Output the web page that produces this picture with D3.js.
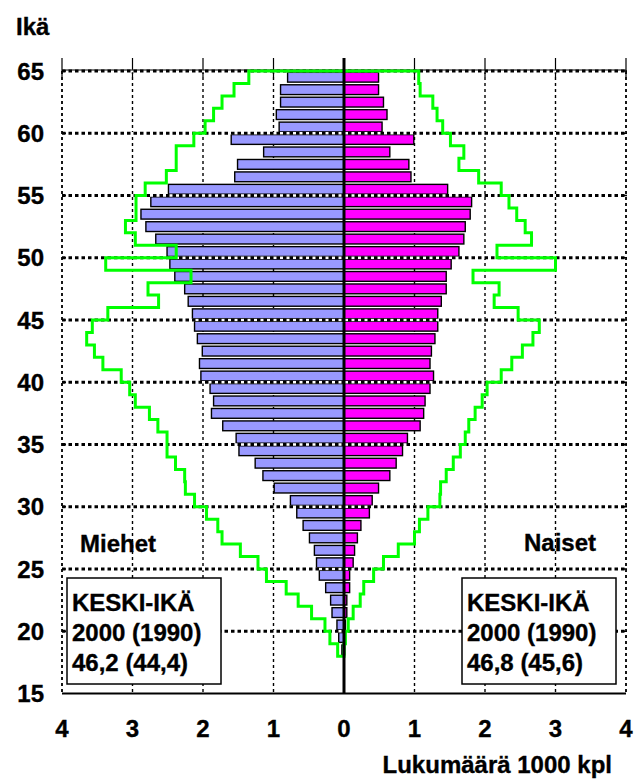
<!DOCTYPE html>
<html><head><meta charset="utf-8">
<script src="https://cdn.jsdelivr.net/npm/d3@7"></script>
<style>body{margin:0;background:#fff}svg text{font-family:"Liberation Sans",Arial,sans-serif;font-weight:bold;fill:#000;stroke:#000;stroke-width:0.35px}</style>
</head><body><div id="chart"></div>
<script>
// Ages (each bar covers age a .. a+1), listed from 64 down to 18
const ages = [64,63,62,61,60,59,58,57,56,55,54,53,52,51,50,49,48,47,46,45,44,43,42,41,40,39,38,37,36,35,34,33,32,31,30,29,28,27,26,25,24,23,22,21,20,19,18];
// Men 2000 (1000 persons)
const men2000 = [0.80,0.90,0.90,0.96,0.92,1.60,1.14,1.51,1.55,2.49,2.74,2.88,2.81,2.67,2.51,2.47,2.40,2.26,2.21,2.15,2.12,2.08,2.01,2.05,2.03,1.90,1.85,1.88,1.72,1.53,1.49,1.26,1.15,0.99,0.76,0.67,0.58,0.49,0.42,0.39,0.35,0.26,0.19,0.17,0.10,0.075,0.03];
// Women 2000
const women2000 = [0.49,0.49,0.56,0.61,0.54,0.99,0.65,0.92,0.95,1.47,1.81,1.79,1.72,1.70,1.63,1.52,1.45,1.45,1.38,1.33,1.33,1.29,1.24,1.22,1.27,1.22,1.15,1.13,1.08,0.90,0.83,0.74,0.65,0.49,0.40,0.36,0.24,0.19,0.15,0.13,0.08,0.08,0.04,0.04,0.02,0.01,0.01];
// Men 1990 (green outline)
const men1990 = [1.35,1.56,1.73,1.85,1.97,2.13,2.38,2.38,2.52,2.82,2.95,2.95,3.10,2.96,2.38,3.38,2.17,2.78,2.63,3.35,3.57,3.65,3.54,3.42,3.16,3.04,2.96,2.76,2.64,2.51,2.51,2.39,2.26,2.25,2.12,1.95,1.79,1.73,1.47,1.22,1.10,0.82,0.65,0.46,0.27,0.20,0.09];
// Women 1990 (green outline)
const women1990 = [1.06,1.08,1.26,1.32,1.40,1.51,1.70,1.63,1.91,2.23,2.34,2.45,2.57,2.66,2.17,3.00,1.83,2.20,2.13,2.47,2.77,2.68,2.53,2.38,2.23,2.03,1.96,1.86,1.77,1.72,1.65,1.55,1.45,1.37,1.36,1.19,1.07,1.00,0.77,0.56,0.42,0.28,0.23,0.13,0.06,0.02,0.00];
// Tick labels
const xTicks = [-4,-3,-2,-1,0,1,2,3,4];
const yTicks = [15,20,25,30,35,40,45,50,55,60,65];
const yLabel = "Ikä";
const xLabel = "Lukumäärä 1000 kpl";
const leftLabel = "Miehet", rightLabel = "Naiset";
const leftBox = ["KESKI-IKÄ","2000 (1990)","46,2 (44,4)"];
const rightBox = ["KESKI-IKÄ","2000 (1990)","46,8 (45,6)"];

const W=634,H=781;
const svg=d3.select("#chart").append("svg").attr("width",W).attr("height",H);
const x=d3.scaleLinear().domain([-4,4]).range([62,626]);
const y=d3.scaleLinear().domain([15,65]).range([693.5,71]);
const rows=ages.map((a,i)=>({age:a,m:men2000[i],w:women2000[i],m90:men1990[i],w90:women1990[i]}));

// vertical gridlines (behind bars)
const g=svg.append("g");
g.selectAll("line.vg").data(xTicks.filter(v=>v!==0)).join("line")
 .attr("x1",d=>x(d)).attr("x2",d=>x(d)).attr("y1",y(65)).attr("y2",y(15))
 .attr("stroke","#000").attr("stroke-width",1.4).attr("stroke-dasharray","3,3");
// top ticks
g.selectAll("line.tt").data(xTicks).join("line")
 .attr("x1",d=>x(d)).attr("x2",d=>x(d)).attr("y1",y(65)-13).attr("y2",y(65)+6)
 .attr("stroke","#000").attr("stroke-width",1.2);

const bh=9.8;
svg.append("g").selectAll("rect").data(rows).join("rect")
 .attr("x",d=>x(-d.m)).attr("width",d=>x(0)-x(-d.m))
 .attr("y",d=>y(d.age+0.5)-bh/2).attr("height",bh)
 .attr("fill","#9999ff").attr("stroke","#000").attr("stroke-width",1.4);
svg.append("g").selectAll("rect").data(rows).join("rect")
 .attr("x",x(0)).attr("width",d=>x(d.w)-x(0))
 .attr("y",d=>y(d.age+0.5)-bh/2).attr("height",bh)
 .attr("fill","#ff00ff").attr("stroke","#000").attr("stroke-width",1.4);

// horizontal gridlines (over bars)
const hg=svg.append("g");
const hv=yTicks.filter(v=>v>15);
hg.selectAll("line.hw").data(hv).join("line")
 .attr("x1",x(-4)).attr("x2",x(4)).attr("y1",d=>y(d)).attr("y2",d=>y(d))
 .attr("stroke","#fff").attr("stroke-width",2.6);
hg.selectAll("line.hb").data(hv).join("line")
 .attr("x1",x(-4)).attr("x2",x(4)).attr("y1",d=>y(d)).attr("y2",d=>y(d))
 .attr("stroke","#000").attr("stroke-width",2.8).attr("stroke-dasharray","3.5,3");
// top solid
svg.append("line").attr("x1",x(-4)).attr("x2",x(4)).attr("y1",y(65)-1).attr("y2",y(65)-1).attr("stroke","#000").attr("stroke-width",1.2);
// borders
[-4,4].forEach(v=>svg.append("line").attr("x1",x(v)).attr("x2",x(v)).attr("y1",y(65)).attr("y2",y(15))
 .attr("stroke","#000").attr("stroke-width",1.4).attr("stroke-dasharray","3,3"));
// y ticks on borders
svg.append("g").selectAll("line").data(hv).join("line")
 .attr("x1",x(-4)).attr("x2",x(-4)+4).attr("y1",d=>y(d)).attr("y2",d=>y(d)).attr("stroke","#000").attr("stroke-width",1.5);
svg.append("g").selectAll("line").data(hv).join("line")
 .attr("x1",x(4)-4).attr("x2",x(4)+1).attr("y1",d=>y(d)).attr("y2",d=>y(d)).attr("stroke","#000").attr("stroke-width",1.5);

// 1990 outline
const pts=[];
const asc=rows.slice().reverse(); // 18..64
asc.forEach(d=>{pts.push([x(-d.m90),y(d.age)]);pts.push([x(-d.m90),y(d.age+1)]);});
rows.forEach(d=>{pts.push([x(d.w90),y(d.age+1)]);pts.push([x(d.w90),y(d.age)]);});
svg.append("path").attr("d",d3.line()(pts)+"Z").attr("fill","none").attr("stroke","#00ff00").attr("stroke-width",3).attr("stroke-linejoin","miter");

// zero line
svg.append("line").attr("x1",x(0)).attr("x2",x(0)).attr("y1",y(65)-13).attr("y2",y(15)).attr("stroke","#000").attr("stroke-width",3);
// bottom axis
svg.append("line").attr("x1",x(-4)).attr("x2",x(4)).attr("y1",y(15)).attr("y2",y(15)).attr("stroke","#000").attr("stroke-width",2);

// labels
const fs=24;
svg.append("text").attr("x",16).attr("y",35).attr("font-size",fs).text(yLabel);
svg.append("g").selectAll("text").data(yTicks).join("text")
 .attr("x",44).attr("y",d=>y(d)+8.5).attr("text-anchor","end").attr("font-size",fs).text(d=>d);
svg.append("g").selectAll("text").data(xTicks).join("text")
 .attr("x",d=>x(d)).attr("y",737).attr("text-anchor","middle").attr("font-size",fs).text(d=>Math.abs(d));
svg.append("text").attr("x",612).attr("y",773).attr("text-anchor","end").attr("font-size",fs).text(xLabel);
svg.append("text").attr("x",80).attr("y",552).attr("font-size",fs).text(leftLabel);
svg.append("text").attr("x",596).attr("y",551).attr("text-anchor","end").attr("font-size",fs).text(rightLabel);

function box(bx,lines){
 svg.append("rect").attr("x",bx).attr("y",578).attr("width",154).attr("height",106).attr("fill","#fff").attr("stroke","#000").attr("stroke-width",1.5);
 svg.append("g").selectAll("text").data(lines).join("text")
  .attr("x",bx+5).attr("y",(d,i)=>611+i*30).attr("font-size",fs).text(d=>d);
}
box(67,leftBox);
box(462,rightBox);
</script></body></html>
